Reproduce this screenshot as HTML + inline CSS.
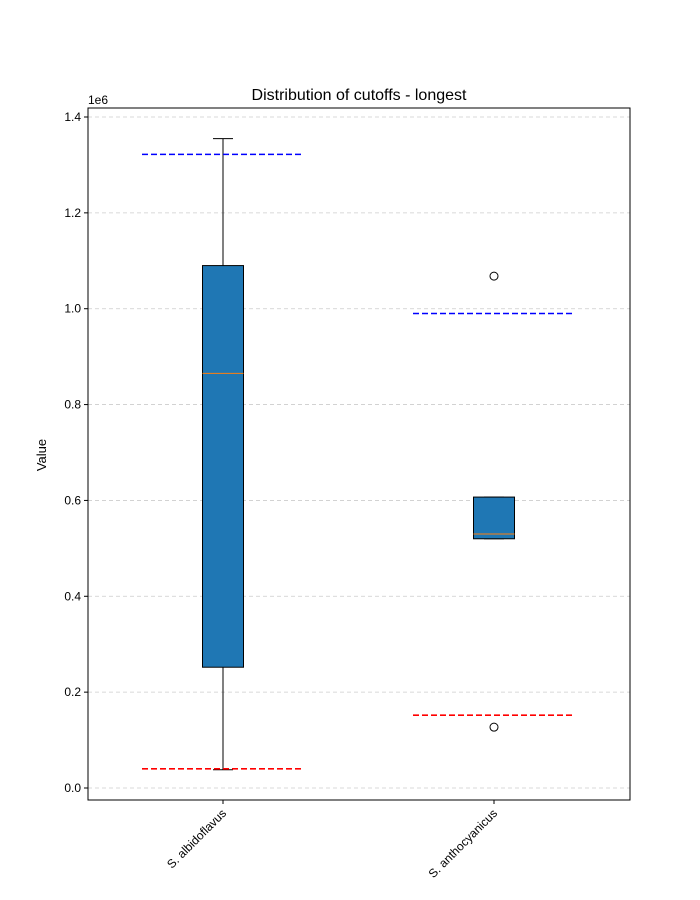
<!DOCTYPE html>
<html><head><meta charset="utf-8"><style>body{margin:0;background:#fff}svg{display:block;font-family:"Liberation Sans","DejaVu Sans",sans-serif}</style></head>
<body>
<svg id="chart" width="700" height="900"></svg>
<script>
const categories = ["S. albidoflavus", "S. anthocyanicus"];
const whiskLow = [0.038e6, 0.52e6];
const q1 = [0.252e6, 0.52e6];
const median = [0.865e6, 0.53e6];
const q3 = [1.09e6, 0.607e6];
const whiskHigh = [1.355e6, 0.607e6];
const outliers = [[], [1.068e6, 0.127e6]];
const blueLine = [1.322e6, 0.99e6];
const redLine = [0.04e6, 0.152e6];
const yTicks = [0, 0.2e6, 0.4e6, 0.6e6, 0.8e6, 1.0e6, 1.2e6, 1.4e6];
const yTickLabels = ["0.0","0.2","0.4","0.6","0.8","1.0","1.2","1.4"];

const NS = "http://www.w3.org/2000/svg";
const svg = document.getElementById("chart");
const L=88,R=630,T=108,B=800;
const y = v => 788 - v/1.4e6*(788-117);
const x = i => 223 + i*271;
function el(tag, attrs, parent){const e=document.createElementNS(NS,tag);for(const k in attrs)e.setAttribute(k,attrs[k]);(parent||svg).appendChild(e);return e;}

// grid
yTicks.forEach((v,i)=>{
  const g=el("line",{x1:L,x2:R,y1:y(v),y2:y(v),stroke:"#ccc","stroke-dasharray":"4,3","stroke-width":0.8});
  
  
  const t=el("line",{x1:L-4,x2:L,y1:y(v),y2:y(v),stroke:"#000"});
  
  
  const tx=el("text",{x:L-7,y:y(v)+4,"text-anchor":"end","font-size":12});
  tx.textContent=yTickLabels[i];
  
  
});

categories.forEach((c,i)=>{
  const cx=x(i), hw=20.5;
  const g=el("g",{});
  
  
  el("line",{x1:cx,x2:cx,y1:y(whiskLow[i]),y2:y(q1[i]),stroke:"#000"},g);
  el("line",{x1:cx,x2:cx,y1:y(q3[i]),y2:y(whiskHigh[i]),stroke:"#000"},g);
  el("line",{x1:cx-10,x2:cx+10,y1:y(whiskLow[i]),y2:y(whiskLow[i]),stroke:"#000"},g);
  el("line",{x1:cx-10,x2:cx+10,y1:y(whiskHigh[i]),y2:y(whiskHigh[i]),stroke:"#000"},g);
  el("rect",{x:cx-hw,y:y(q3[i]),width:2*hw,height:y(q1[i])-y(q3[i]),fill:"#1f77b4",stroke:"#000"},g);
  el("line",{x1:cx-hw,x2:cx+hw,y1:y(median[i]),y2:y(median[i]),stroke:"#ff7f0e"},g);
  outliers[i].forEach(o=>{
    const p=el("circle",{cx:cx,cy:y(o),r:4,fill:"none",stroke:"#000"});
    
    
  });
  const b=el("line",{x1:cx-81,x2:cx+81,y1:y(blueLine[i]),y2:y(blueLine[i]),stroke:"#0000ff","stroke-width":1.6,"stroke-dasharray":"6,3"});
  
  
  const r=el("line",{x1:cx-81,x2:cx+81,y1:y(redLine[i]),y2:y(redLine[i]),stroke:"#ff0000","stroke-width":1.6,"stroke-dasharray":"6,3"});
  
  
  const t=el("line",{x1:cx,x2:cx,y1:B,y2:B+4,stroke:"#000"});
  
  
  const tx=el("text",{x:cx+4,y:B+14,"text-anchor":"end","font-size":12,transform:`rotate(-45 ${cx+4} ${B+14})`});
  tx.textContent=c;
  
  
});

const frame=el("rect",{x:L,y:T,width:R-L,height:B-T,fill:"none",stroke:"#000"});


const title=el("text",{x:359,y:100,"text-anchor":"middle","font-size":16});
title.textContent="Distribution of cutoffs - longest";


const yl=el("text",{x:46,y:455,"text-anchor":"middle","font-size":13,transform:"rotate(-90 46 455)"});
yl.textContent="Value";


const off=el("text",{x:88,y:104,"font-size":12});
off.textContent="1e6";


</script>
</body></html>
